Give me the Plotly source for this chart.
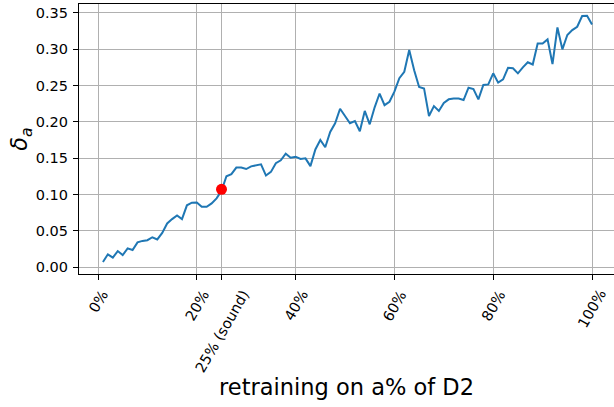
import plotly.graph_objects as go

# ---- data ----
pct = list(range(1, 101))
delta_a = [
    0.007, 0.0175, 0.013, 0.022, 0.0165, 0.0257, 0.0234, 0.034, 0.036, 0.037,
    0.041, 0.038, 0.047, 0.060, 0.066, 0.071, 0.066, 0.085, 0.0886, 0.089,
    0.083, 0.083, 0.0877, 0.0946, 0.105, 0.125, 0.128, 0.137, 0.137, 0.135,
    0.1387, 0.140, 0.1414, 0.126, 0.131, 0.143, 0.147, 0.156, 0.1506, 0.152,
    0.1488, 0.1497, 0.139, 0.162, 0.175, 0.165, 0.186, 0.198, 0.218, 0.208,
    0.198, 0.201, 0.187, 0.215, 0.1966, 0.220, 0.239, 0.223, 0.2277, 0.2415,
    0.260, 0.269, 0.299, 0.271, 0.248, 0.246, 0.208, 0.2217, 0.215, 0.226,
    0.231, 0.232, 0.232, 0.230, 0.247, 0.245, 0.231, 0.2507, 0.2516, 0.2668,
    0.254, 0.2585, 0.2745, 0.2737, 0.2668, 0.275, 0.282, 0.279, 0.308, 0.308,
    0.3136, 0.2796, 0.330, 0.2998, 0.3196, 0.3264, 0.331, 0.3457, 0.346, 0.334,
]
sound_x = [25]
sound_y = [0.107]
x_tickvals = [0, 20, 25, 40, 60, 80, 100]
x_ticktext = ["0%", "20%", "25% (sound)", "40%", "60%", "80%", "100%"]
y_tickvals = [0.00, 0.05, 0.10, 0.15, 0.20, 0.25, 0.30, 0.35]
y_ticktext = ["0.00", "0.05", "0.10", "0.15", "0.20", "0.25", "0.30", "0.35"]

FONT = "DejaVu Sans"

fig = go.Figure()
fig.add_trace(go.Scatter(x=pct, y=delta_a, mode="lines",
                         line=dict(color="#1f77b4", width=2), showlegend=False))
fig.add_trace(go.Scatter(x=sound_x, y=sound_y, mode="markers",
                         marker=dict(color="red", size=11), showlegend=False))

for v, t in zip(x_tickvals, x_ticktext):
    fig.add_annotation(x=v, y=0, xref="x", yref="paper", yshift=-11,
                       text=t, textangle=-60, showarrow=False,
                       xanchor="center", yanchor="top",
                       font=dict(family=FONT, size=14.5, color="black"))

fig.update_layout(
    width=614, height=407,
    margin=dict(l=79, r=0, t=4, b=133, autoexpand=False),
    plot_bgcolor="white", paper_bgcolor="white",
    font=dict(family=FONT, color="black"),
    hovermode=False,
    xaxis=dict(range=[-3.846, 104.45], tickmode="array", tickvals=x_tickvals,
               showticklabels=False, automargin=False,
               ticks="outside", ticklen=5, tickcolor="black", tickwidth=1,
               showgrid=True, gridcolor="#b0b0b0", gridwidth=1, zeroline=False,
               showline=True, linecolor="black", linewidth=1.1, mirror=True,
               title=dict(text="retraining on a% of D2", standoff=100,
                          font=dict(family=FONT, size=22.5, color="black"))),
    yaxis=dict(range=[-0.0096, 0.3623], tickmode="array", tickvals=y_tickvals,
               ticktext=y_ticktext, ticks="outside", ticklen=5, automargin=False,
               tickcolor="black", tickwidth=1, ticklabelstandoff=2,
               tickfont=dict(family=FONT, size=14.5, color="black"),
               showgrid=True, gridcolor="#b0b0b0", gridwidth=1, zeroline=False,
               showline=True, linecolor="black", linewidth=1.1, mirror=False,
               title=dict(text="<i>δ</i><sub><i>a</i></sub>", standoff=0,
                          font=dict(family=FONT, size=22.5, color="black"))),
)

fig.write_html("out.html",
               config={"displayModeBar": False, "staticPlot": True},
               post_script="document.body.style.margin='0';document.body.style.overflow='hidden';")
